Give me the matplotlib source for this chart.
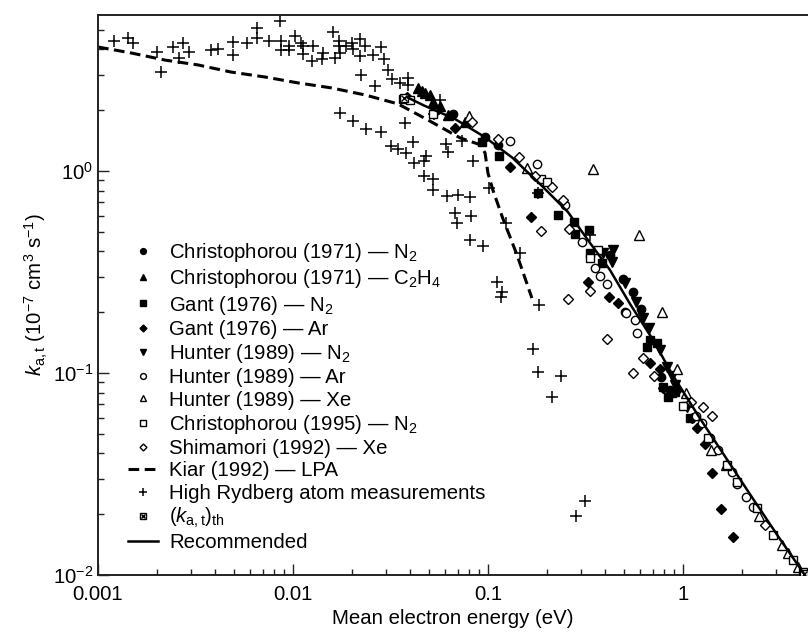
import numpy as np
import matplotlib.pyplot as plt

# values (energy in eV, k in 1e-7 cm^3 s^-1)
CHR71_N2_X = [0.0662, 0.0966, 0.1125, 0.422, 0.492, 0.554, 0.609, 0.504, 0.771, 0.858]
CHR71_N2_Y = [1.91, 1.47, 1.35, 0.384, 0.292, 0.252, 0.207, 0.200, 0.0955, 0.0824]

CHR71_C2H4_X = [0.0438, 0.0459, 0.0475, 0.0504, 0.0522, 0.0567, 0.0623, 0.0762]
CHR71_C2H4_Y = [2.58, 2.49, 2.43, 2.38, 2.20, 2.10, 1.89, 1.75]

GANT_N2_X = [0.0931, 0.114, 0.181, 0.229, 0.276, 0.279, 0.330, 0.334, 0.384, 0.653,
             0.677, 0.736, 0.789, 0.879, 0.910, 0.838, 1.09]
GANT_N2_Y = [1.39, 1.19, 0.778, 0.605, 0.560, 0.488, 0.510, 0.393, 0.351, 0.135,
             0.146, 0.141, 0.0853, 0.0796, 0.0805, 0.0760, 0.0598]

GANT_AR_X = [0.0384, 0.0677, 0.130, 0.166, 0.326, 0.418, 0.464, 0.677, 0.762, 0.789,
             0.932, 1.11, 1.18, 1.30, 1.41, 1.57, 1.80]
GANT_AR_Y = [2.32, 1.63, 1.05, 0.591, 0.282, 0.238, 0.222, 0.112, 0.105, 0.0843,
             0.0824, 0.0598, 0.0534, 0.0445, 0.0320, 0.0212, 0.0154]

HUN_N2_X = [0.389, 0.438, 0.432, 0.504, 0.574, 0.623, 0.669, 0.762, 0.828, 0.879, 0.910, 1.05]
HUN_N2_Y = [0.393, 0.406, 0.355, 0.279, 0.225, 0.187, 0.167, 0.130, 0.107, 0.0966, 0.0872, 0.0679]

HUN_AR_X = [0.0528, 0.130, 0.178, 0.248, 0.303, 0.354, 0.375, 0.408, 0.510, 0.567,
            0.581, 1.17, 1.25, 1.38, 1.51, 1.78, 1.89, 2.10, 2.29]
HUN_AR_Y = [1.96, 1.41, 1.08, 0.679, 0.445, 0.331, 0.302, 0.276, 0.198, 0.183,
            0.158, 0.0613, 0.0565, 0.0477, 0.0416, 0.0324, 0.0282, 0.0243, 0.0217]

HUN_XE_X = [0.0799, 0.158, 0.345, 0.594, 0.780, 0.932, 1.04, 1.39, 1.66, 2.45,
            3.22, 3.45, 3.89]
HUN_XE_Y = [1.87, 1.03, 1.02, 0.482, 0.200, 0.105, 0.0796, 0.0416, 0.0350, 0.0196,
            0.0141, 0.0129, 0.0110]

CHR95_N2_X = [0.0366, 0.0398, 0.0522, 0.187, 0.201, 0.334, 0.367, 1.0, 1.34, 1.68,
              1.89, 2.40, 2.89, 3.66, 4.12]
CHR95_N2_Y = [2.27, 2.25, 1.91, 0.913, 0.883, 0.371, 0.406, 0.0687, 0.0477, 0.0350,
              0.0289, 0.0215, 0.0158, 0.0119, 0.0103]

SHIM_XE_X = [0.0828, 0.1125, 0.144, 0.174, 0.213, 0.243, 0.260, 0.187, 0.257, 0.334,
             0.408, 0.554, 0.623, 0.710, 1.10, 1.27, 1.41, 2.63]
SHIM_XE_Y = [1.75, 1.44, 1.17, 0.944, 0.834, 0.718, 0.516, 0.505, 0.232, 0.255,
             0.147, 0.100, 0.119, 0.0966, 0.0718, 0.0679, 0.0613, 0.0177]

KIAR_X = [0.001, 0.00148, 0.00221, 0.00326, 0.00481, 0.00718, 0.0106, 0.0157, 0.0234,
          0.0345, 0.0492, 0.0718, 0.0910, 0.0966, 0.100, 0.106, 0.119, 0.141, 0.168]
KIAR_Y = [4.11, 3.84, 3.54, 3.35, 3.09, 2.92, 2.73, 2.58, 2.38,
          2.15, 1.79, 1.46, 1.35, 1.23, 0.977, 0.805, 0.585, 0.384, 0.235]

RYD_X = [0.00121, 0.00143, 0.00151, 0.00201, 0.00210, 0.00243, 0.00260, 0.00273, 0.00293,
         0.00380, 0.00412, 0.00492, 0.00492, 0.00581, 0.00654, 0.00654, 0.00753, 0.00858,
         0.00868, 0.00868, 0.00953, 0.00953, 0.0102, 0.0110, 0.0112, 0.0112, 0.0127,
         0.0125, 0.0143, 0.0141, 0.0160, 0.0164, 0.0172, 0.0174, 0.0172, 0.0187, 0.0201,
         0.0203, 0.0221, 0.0221, 0.0234, 0.0257, 0.0283, 0.0293, 0.0307, 0.0322, 0.0354,
         0.0389, 0.0389, 0.0223, 0.0263, 0.0174, 0.0203, 0.0237, 0.0283, 0.0318, 0.0345,
         0.0375, 0.0412, 0.0380, 0.0418, 0.0470, 0.0481, 0.0470, 0.0522, 0.0522, 0.0616,
         0.0702, 0.0809, 0.0677, 0.0818, 0.0694, 0.0809, 0.0942, 0.0609, 0.0624, 0.0735,
         0.0838, 0.101, 0.124, 0.146, 0.0528, 0.0567, 0.111, 0.118, 0.117, 0.183, 0.170,
         0.181, 0.237, 0.213, 0.314, 0.283, 0.181, 0.334]
RYD_Y = [4.40, 4.55, 4.30, 3.88, 3.09, 4.11, 3.63, 4.30, 3.88,
         3.97, 4.02, 4.35, 3.75, 4.30, 5.10, 4.55, 4.40, 5.53,
         4.40, 3.97, 4.16, 3.97, 4.66, 4.30, 4.16, 3.79, 4.16,
         3.50, 3.84, 3.58, 4.88, 3.63, 4.40, 3.84, 4.16, 4.16, 4.30,
         4.02, 4.50, 3.71, 4.16, 3.75, 4.11, 3.58, 3.16, 2.85, 2.73,
         2.89, 2.66, 2.99, 2.64, 1.94, 1.77, 1.61, 1.56, 1.33, 1.28,
         1.73, 1.39, 1.23, 1.10, 1.12, 1.19, 0.944, 0.913, 0.805, 0.752,
         0.761, 0.743, 0.620, 0.599, 0.553, 0.455, 0.425, 1.36, 1.24, 1.41,
         1.12, 0.824, 0.553, 0.393, 1.91, 2.25, 0.282, 0.252, 0.238, 0.217, 0.131,
         0.101, 0.0967, 0.0760, 0.0232, 0.0196, 0.778, 0.482]

TH_X = [0.037, 4.2]
TH_Y = [2.30, 0.0101]

REC_X = [0.0384, 0.0475, 0.0677, 0.0966, 0.134, 0.187, 0.257, 0.334, 0.422, 0.535,
         0.702, 0.879, 1.22, 1.55, 2.29, 3.14, 4.22]
REC_Y = [2.32, 2.10, 1.81, 1.47, 1.16, 0.853, 0.627, 0.440, 0.324, 0.220,
         0.146, 0.0989, 0.0598, 0.0421, 0.0238, 0.0151, 0.0100]

plt.rcParams["font.family"] = ["Liberation Sans", "DejaVu Sans"]
plt.rcParams["mathtext.fontset"] = "custom"
plt.rcParams["mathtext.rm"] = "Liberation Sans"
plt.rcParams["mathtext.it"] = "Liberation Sans:italic"
plt.rcParams["mathtext.bf"] = "Liberation Sans:bold"

FS = 14.7

fig = plt.figure(figsize=(8.08, 6.33), dpi=100)
ax = fig.add_axes([98 / 808, 1 - 575 / 633, 710 / 808, 560 / 633])

handles = []


def scatter(x, y, marker, ms, filled, label):
    h, = ax.plot(x, y, ls="none", marker=marker, ms=ms, mew=1.0, mec="black",
                 mfc="black" if filled else "white", label=label, zorder=3)
    handles.append(h)


scatter(CHR71_N2_X, CHR71_N2_Y, "o", 6, True, "Christophorou (1971) — N$_2$")
scatter(CHR71_C2H4_X, CHR71_C2H4_Y, "^", 6.5, True, "Christophorou (1971) — C$_2$H$_4$")
scatter(GANT_N2_X, GANT_N2_Y, "s", 5.5, True, "Gant (1976) — N$_2$")
scatter(GANT_AR_X, GANT_AR_Y, "D", 5, True, "Gant (1976) — Ar")
scatter(HUN_N2_X, HUN_N2_Y, "v", 6.5, True, "Hunter (1989) — N$_2$")
scatter(HUN_AR_X, HUN_AR_Y, "o", 6, False, "Hunter (1989) — Ar")
scatter(HUN_XE_X, HUN_XE_Y, "^", 6.5, False, "Hunter (1989) — Xe")
scatter(CHR95_N2_X, CHR95_N2_Y, "s", 5.5, False, "Christophorou (1995) — N$_2$")
scatter(SHIM_XE_X, SHIM_XE_Y, "D", 5, False, "Shimamori (1992) — Xe")

kiar, = ax.plot(KIAR_X, KIAR_Y, color="black", lw=2.2, ls=(0, (3.5, 1.8)),
                label="Kiar (1992) — LPA", zorder=2)
handles.append(kiar)

ryd, = ax.plot(RYD_X, RYD_Y, ls="none", marker="+", ms=8, mew=1.1, color="black",
               label="High Rydberg atom measurements", zorder=2)
handles.append(ryd)

th_box, = ax.plot(TH_X, TH_Y, ls="none", marker="s", ms=6, mew=1.0, mec="black",
                  mfc="white", zorder=4)
th_x, = ax.plot(TH_X, TH_Y, ls="none", marker="x", ms=4, mew=1.0, color="black", zorder=5)
handles.append((th_box, th_x))

rec, = ax.plot(REC_X, REC_Y, color="black", lw=1.8, label="Recommended", zorder=4)
handles.append(rec)

labels = [h.get_label() if not isinstance(h, tuple) else r"($k_{\mathrm{a,t}}$)$_{\mathrm{th}}$"
          for h in handles]

ax.set_xscale("log")
ax.set_yscale("log")
ax.set_xlim(0.001, 4.38)
ax.set_ylim(0.01, 5.92)
ax.set_xticks([0.001, 0.01, 0.1, 1])
ax.set_xticklabels(["0.001", "0.01", "0.1", "1"])

ax.tick_params(which="both", direction="in", top=False, right=False, labelsize=FS,
               width=1.0, color="#222222")
ax.tick_params(which="major", length=8)
ax.tick_params(which="minor", length=4)
ax.tick_params(axis="x", pad=7)

for side in ["left", "bottom", "top"]:
    ax.spines[side].set_linewidth(1.4)
    ax.spines[side].set_color("#222222")
ax.spines["right"].set_visible(False)

ax.set_xlabel("Mean electron energy (eV)", fontsize=FS, labelpad=4)
ax.set_ylabel(r"$k_{\mathrm{a,t}}$ (10$^{-7}$ cm$^{3}$ s$^{-1}$)", fontsize=FS, labelpad=2)

fig.legend(handles, labels, loc="upper left", bbox_to_anchor=(128 / 808, 1 - 241 / 633),
           frameon=False, fontsize=FS, markerscale=0.7, handlelength=1.45,
           handletextpad=0.58, labelspacing=0.16, borderpad=0, borderaxespad=0)

fig.savefig("out.png", dpi=100)
